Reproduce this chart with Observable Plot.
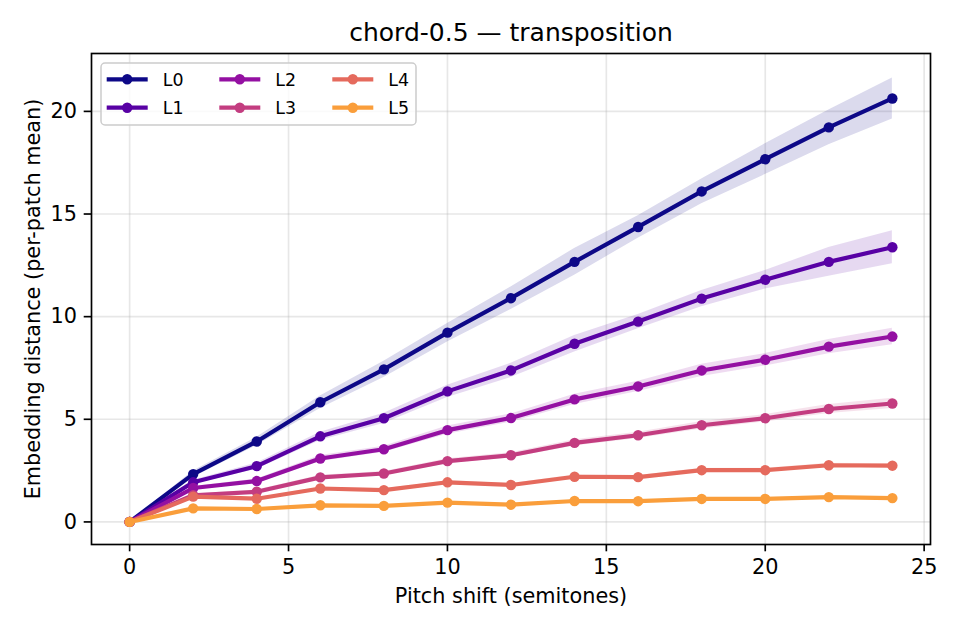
<!DOCTYPE html>
<html>
<head>
<meta charset="utf-8">
<script src="https://cdn.jsdelivr.net/npm/d3@7"></script>
<script src="https://cdn.jsdelivr.net/npm/@observablehq/plot@0.6"></script>
<style>
  html, body { margin: 0; padding: 0; background: white; }
  #wrap { position: relative; width: 960px; height: 630px; }
  #wrap svg { display: block; }
  #legend { position: absolute; left: 0; top: 0; pointer-events: none; }
</style>
</head>
<body>
<div id="wrap"></div>
<script>
// ---- data ----
const shifts = [0, 2, 4, 6, 8, 10, 12, 14, 16, 18, 20, 22, 24];
const layerNames = ["L0", "L1", "L2", "L3", "L4", "L5"];
const L0 = [0, 2.33, 3.92, 5.83, 7.43, 9.22, 10.9, 12.67, 14.37, 16.1, 17.67, 19.22, 20.63];
const L1 = [0, 1.93, 2.72, 4.17, 5.05, 6.36, 7.38, 8.68, 9.76, 10.88, 11.8, 12.67, 13.38];
const L2 = [0, 1.65, 1.99, 3.09, 3.54, 4.47, 5.06, 5.97, 6.6, 7.38, 7.9, 8.54, 9.03];
const L3 = [0, 1.3, 1.47, 2.17, 2.36, 2.96, 3.25, 3.85, 4.22, 4.71, 5.05, 5.5, 5.77];
const L4 = [0, 1.23, 1.13, 1.63, 1.55, 1.93, 1.8, 2.2, 2.18, 2.52, 2.52, 2.76, 2.74];
const L5 = [0, 0.66, 0.63, 0.81, 0.78, 0.94, 0.84, 1.02, 1.01, 1.12, 1.12, 1.21, 1.16];
// band half-widths
const E0 = [0, 0.15, 0.2, 0.3, 0.4, 0.45, 0.55, 0.65, 0.55, 0.6, 0.75, 0.85, 1.0];
const E1 = [0, 0.1, 0.15, 0.2, 0.25, 0.3, 0.35, 0.4, 0.35, 0.4, 0.45, 0.7, 0.8];
const E2 = [0, 0.08, 0.1, 0.15, 0.15, 0.2, 0.2, 0.25, 0.25, 0.3, 0.3, 0.35, 0.4];
const E3 = [0, 0.06, 0.08, 0.1, 0.1, 0.12, 0.12, 0.15, 0.15, 0.18, 0.18, 0.22, 0.25];
const E4 = [0, 0.05, 0.05, 0.06, 0.06, 0.07, 0.07, 0.08, 0.08, 0.09, 0.09, 0.1, 0.1];
const E5 = [0, 0.03, 0.03, 0.03, 0.03, 0.04, 0.04, 0.04, 0.04, 0.05, 0.05, 0.05, 0.05];
const xTicks = [0, 5, 10, 15, 20, 25];
const yTicks = [0, 5, 10, 15, 20];
const titleText = "chord-0.5 — transposition";
const xLabel = "Pitch shift (semitones)";
const yLabel = "Embedding distance (per-patch mean)";

const seriesVals = [L0, L1, L2, L3, L4, L5];
const seriesErr = [E0, E1, E2, E3, E4, E5];
const colors = layerNames.map((_, i) => d3.interpolatePlasma(i * 0.155));

const series = layerNames.map((name, i) => ({
  name, color: colors[i],
  rows: shifts.map((s, j) => ({
    x: s, y: seriesVals[i][j],
    lo: seriesVals[i][j] - seriesErr[i][j],
    hi: seriesVals[i][j] + seriesErr[i][j]
  }))
}));

const font = "DejaVu Sans, sans-serif";
const gridStyle = {stroke: "#b0b0b0", strokeOpacity: 0.3, strokeWidth: 1.67};

const seriesMarks = series.flatMap(s => [
  Plot.areaY(s.rows, {x: "x", y1: "lo", y2: "hi", fill: s.color, fillOpacity: 0.15}),
  Plot.line(s.rows, {x: "x", y: "y", stroke: s.color, strokeWidth: 4.17}),
  Plot.dot(s.rows, {x: "x", y: "y", r: 5.2, fill: s.color, stroke: "none"})
]);

const chart = Plot.plot({
  width: 960, height: 630,
  marginLeft: 91, marginRight: 30, marginTop: 53, marginBottom: 86,
  style: {fontFamily: font, fontSize: "20.8px", background: "white", color: "black", overflow: "visible"},
  x: {domain: [-1.2, 25.2]},
  y: {domain: [-1.1, 22.82]},
  marks: [
    Plot.gridX(xTicks, gridStyle),
    Plot.gridY(yTicks, gridStyle),
    ...seriesMarks,
    Plot.axisX(xTicks, {tickSize: 7.3, tickPadding: 7.3, strokeWidth: 1.67, fontSize: 20.8, label: null, tickFormat: d => String(d)}),
    Plot.axisY(yTicks, {tickSize: 7.3, tickPadding: 7.3, strokeWidth: 1.67, fontSize: 20.8, label: null, tickFormat: d => String(d)}),
    Plot.frame({stroke: "black", strokeWidth: 1.67}),
    Plot.text([titleText], {frameAnchor: "top", lineAnchor: "bottom", dy: -12.5, fontSize: 25, fill: "black"}),
    Plot.text([xLabel], {frameAnchor: "bottom", lineAnchor: "bottom", dy: 58.7, fontSize: 20.8, fill: "black"}),
    Plot.text([yLabel], {frameAnchor: "left", textAnchor: "middle", lineAnchor: "bottom", rotate: -90, dx: -52, fontSize: 20.8, fill: "black"})
  ]
});
document.getElementById("wrap").appendChild(chart);

// ---- legend (overlay, inside axes, upper-left) ----
const leg = d3.select("#wrap").append("svg")
  .attr("id", "legend").attr("width", 960).attr("height", 630)
  .style("font-family", font);
leg.append("rect")
  .attr("x", 101).attr("y", 63).attr("width", 315).attr("height", 62).attr("rx", 4)
  .attr("fill", "white").attr("fill-opacity", 0.8)
  .attr("stroke", "#cccccc").attr("stroke-width", 1.5);
const colX = [106.7, 219.3, 332.3];
const rowY = [79.3, 107.7];
series.forEach((s, i) => {
  const cx = colX[Math.floor(i / 2)], cy = rowY[i % 2];
  const g = leg.append("g");
  g.append("line").attr("x1", cx).attr("x2", cx + 41).attr("y1", cy).attr("y2", cy)
    .attr("stroke", s.color).attr("stroke-width", 4.17);
  g.append("circle").attr("cx", cx + 20.5).attr("cy", cy).attr("r", 5.2).attr("fill", s.color);
  g.append("text").attr("x", cx + 56).attr("y", cy + 6.3).attr("font-size", 17.4)
    .attr("fill", "black").text(s.name);
});
</script>
</body>
</html>
